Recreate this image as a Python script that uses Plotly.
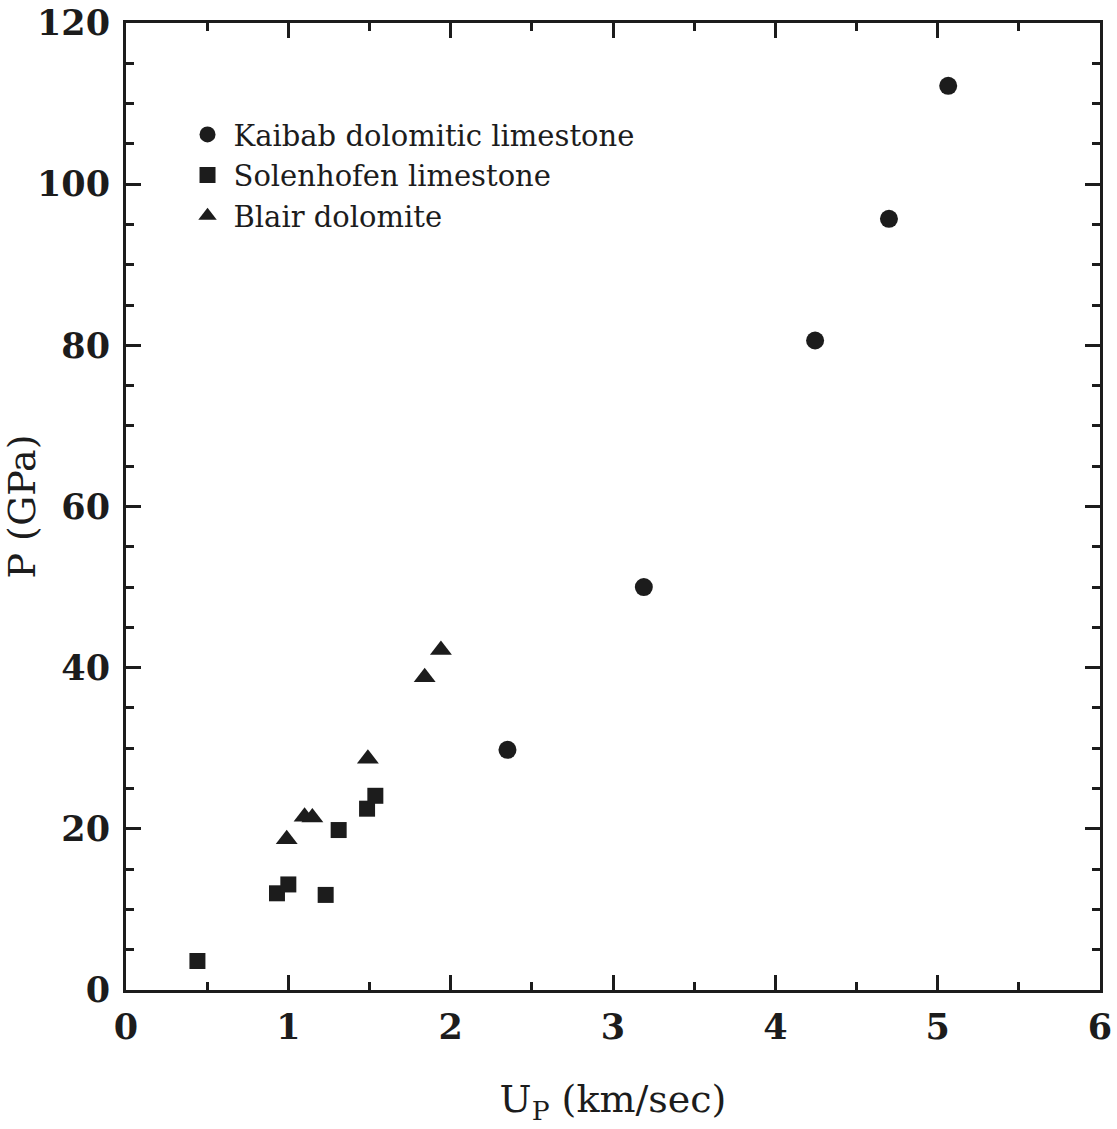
import plotly.graph_objects as go

# Shock Hugoniot data: particle velocity (km/s) vs pressure (GPa)
kaibab_up = [2.35, 3.19, 4.245, 4.70, 5.065]
kaibab_p = [29.8, 50.0, 80.6, 95.7, 112.2]

solenhofen_up = [0.44, 0.93, 1.00, 1.23, 1.31, 1.485, 1.536]
solenhofen_p = [3.6, 12.0, 13.1, 11.8, 19.85, 22.5, 24.1]

blair_up = [0.99, 1.10, 1.148, 1.49, 1.84, 1.94]
blair_p = [18.7, 21.5, 21.4, 28.7, 38.8, 42.2]

INK = "#1c1c1c"
SERIF = "DejaVu Serif"

fig = go.Figure()
fig.add_trace(go.Scatter(x=kaibab_up, y=kaibab_p, mode="markers",
                         name="Kaibab dolomitic limestone",
                         marker=dict(symbol="circle", size=18, color=INK)))
fig.add_trace(go.Scatter(x=solenhofen_up, y=solenhofen_p, mode="markers",
                         name="Solenhofen limestone",
                         marker=dict(symbol="square", size=16, color=INK)))
fig.add_trace(go.Scatter(x=blair_up, y=blair_p, mode="markers",
                         name="Blair dolomite",
                         marker=dict(symbol="triangle-up", size=19, color=INK)))

axis_common = dict(
    showgrid=False, zeroline=False, automargin=False,
    showline=True, linecolor=INK, linewidth=3, mirror="ticks",
    ticks="inside", ticklen=15, tickwidth=3, tickcolor=INK,
    tickfont=dict(family=SERIF, size=35, color=INK, weight="bold"),
)

fig.update_xaxes(
    range=[0, 6], tick0=0, dtick=1, ticklabelstandoff=4,
    minor=dict(dtick=0.5, ticks="inside", ticklen=8, tickwidth=3, tickcolor=INK),
    title=dict(text="U<sub>P</sub> (km/sec)", font=dict(family=SERIF, size=38, color=INK),
               standoff=40),
    **axis_common,
)
fig.update_yaxes(
    range=[0, 120], tick0=0, dtick=20, ticklabelstandoff=6,
    minor=dict(dtick=5, ticks="inside", ticklen=8, tickwidth=3, tickcolor=INK),
    title=dict(text="P (GPa)", font=dict(family=SERIF, size=38, color=INK),
               standoff=13),
    **axis_common,
)

fig.update_layout(
    width=1117, height=1129,
    margin=dict(l=126, r=17, t=23, b=139),
    paper_bgcolor="white", plot_bgcolor="white",
    showlegend=True,
    legend=dict(
        x=0.057, y=0.911, xanchor="left", yanchor="top",
        bgcolor="rgba(0,0,0,0)", borderwidth=0,
        font=dict(family=SERIF, size=29, color=INK),
        itemsizing="trace", itemwidth=42,
        tracegroupgap=0,
    ),
)

fig.write_html("out.html")
